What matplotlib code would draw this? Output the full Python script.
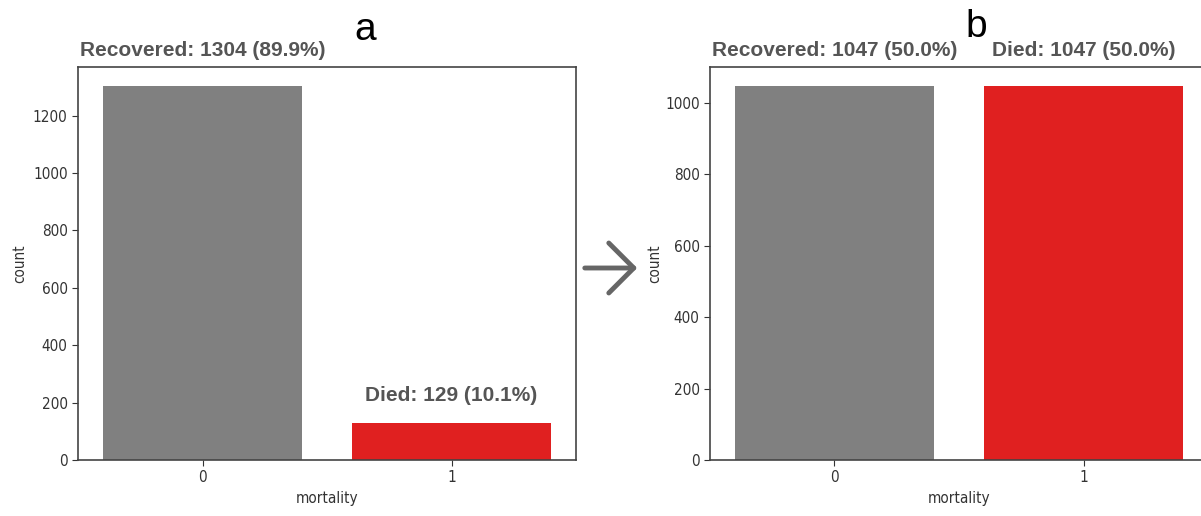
import matplotlib.pyplot as plt
from matplotlib.patches import FancyArrowPatch

# class counts before (a) and after (b) balancing
categories = ["0", "1"]
names = ["Recovered", "Died"]
counts_a = [1304, 129]
pct_a = [89.9, 10.1]
counts_b = [1047, 1047]
pct_b = [50.0, 50.0]
bar_colors = ["#808080", "#e02020"]

plt.rcParams["font.family"] = ["DejaVu Sans"]
plt.rcParams["font.stretch"] = "condensed"

W, H = 1201, 516
fig = plt.figure(figsize=(W / 100, H / 100), dpi=100)


def px_axes(left, top, right, bottom):
    return fig.add_axes([left / W, 1 - bottom / H, (right - left) / W, (bottom - top) / H])


def countplot(ax, counts, pcts, offsets):
    x = range(len(counts))
    ax.bar(x, counts, width=0.8, color=bar_colors)
    ax.set_xlim(-0.5, len(counts) - 0.5)
    ax.set_ylim(0, max(counts) * 1.05)
    ax.set_xticks(list(x))
    ax.set_xticklabels(categories)
    ax.set_xlabel("mortality", fontsize=11, color="#333333")
    ax.set_ylabel("count", fontsize=11, color="#333333")
    ax.tick_params(labelsize=11, colors="#333333", length=4)
    for s in ax.spines.values():
        s.set_color("#444444")
        s.set_linewidth(1.2)
    for i, (n, c, p) in enumerate(zip(names, counts, pcts)):
        ax.annotate(f"{n}: {c} ({p:.1f}%)", xy=(i, c),
                    xytext=(0, offsets[i]), textcoords="offset pixels",
                    ha="center", va="bottom", fontsize=15, fontweight="bold",
                    color="#555555", family="Liberation Sans",
                    stretch="normal", annotation_clip=False)


ax1 = px_axes(78, 67, 576, 460)
countplot(ax1, counts_a, pct_a, [26, 18])

ax2 = px_axes(710, 67, 1208, 460)
countplot(ax2, counts_b, pct_b, [26, 26])
ax2.yaxis.labelpad = 2

fig.text(365 / W, 1 - 30 / H, "a", fontsize=28, ha="center", va="center",
         family="Liberation Sans", stretch="normal", color="black")
fig.text(976 / W, 1 - 27 / H, "b", fontsize=28, ha="center", va="center",
         family="Liberation Sans", stretch="normal", color="black")

# arrow between the two panels
fig.add_artist(FancyArrowPatch(
    (582 / W, 1 - 268 / H), (640 / W, 1 - 268 / H), transform=fig.transFigure,
    arrowstyle="->,head_length=0.9,head_width=0.9", mutation_scale=20,
    color="#666666", linewidth=3.5))

fig.savefig("out.png", dpi=100)
